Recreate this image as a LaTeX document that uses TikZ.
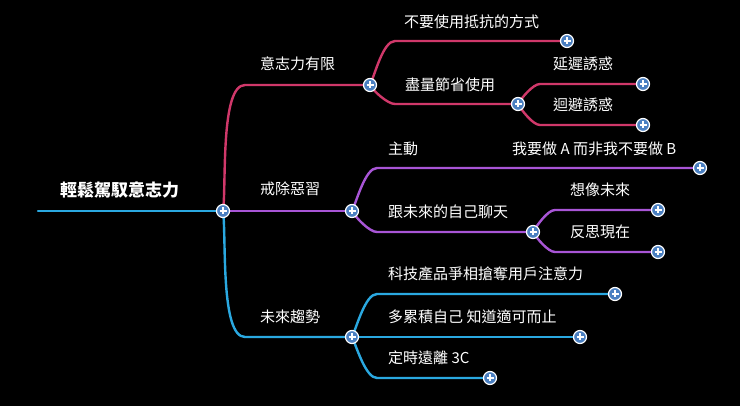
\documentclass[tikz,border=0pt]{standalone}
\usepackage{fontspec}
\newfontfamily\cjk{Noto Sans CJK TC}
\usetikzlibrary{positioning}
\definecolor{dred}{RGB}{208,56,106}
\definecolor{dpurple}{RGB}{168,85,214}
\definecolor{dcyan}{RGB}{42,168,224}
\definecolor{pblue}{RGB}{74,127,193}
\tikzset{
  plusnode/.style={circle,fill=pblue,draw=white,line width=1.2pt,minimum size=13pt,inner sep=0pt,
    path picture={\draw[white,line width=1.8pt] (path picture bounding box.center) ++(-3.5,0) -- ++(7,0)
      (path picture bounding box.center) ++(0,-3.5) -- ++(0,7);}},
  lbl/.style={text=white,font=\cjk\fontsize{15}{15}\selectfont,inner sep=0pt,anchor=west},
  branch/.style={line width=2.4pt,line cap=round}
}
\begin{document}
\begin{tikzpicture}[x=1pt,y=-1pt]
\fill[black] (0,0) rectangle (740,406);
\useasboundingbox (0,0) rectangle (740,406);
% plus points
\coordinate (start) at (38,211);
\coordinate (a) at (223,211);
\coordinate (b1) at (370,85);
\coordinate (b2) at (352,211);
\coordinate (b3) at (352,337);
\coordinate (c1) at (567,41);
\coordinate (c2) at (518,104);
\coordinate (d1) at (643,84);
\coordinate (d2) at (643,125);
\coordinate (e0) at (480,168);
\coordinate (e1) at (700,168);
\coordinate (e2) at (533,232);
\coordinate (f1) at (658,210);
\coordinate (f2) at (658,252);
\coordinate (g1) at (615,294);
\coordinate (g2) at (580,337);
\coordinate (g3) at (490,378);
% texts
\node[lbl,font=\cjk\bfseries\fontsize{17}{17}\selectfont] (root) at (60,190) {輕鬆駕馭意志力};
\node[lbl] (t1) at (260,64) {意志力有限};
\node[lbl] (t2) at (260,189) {戒除惡習};
\node[lbl] (t3) at (260,317) {未來趨勢};
\node[lbl] (t11) at (404,22) {不要使用抵抗的方式};
\node[lbl] (t12) at (405,85) {盡量節省使用};
\node[lbl] (t121) at (553,64) {延遲誘惑};
\node[lbl] (t122) at (553,105) {迴避誘惑};
\node[lbl] (t21) at (388,149) {主動};
\node[lbl] (t211) at (512,149) {我要做 A 而非我不要做 B};
\node[lbl] (t22) at (388,212) {跟未來的自己聊天};
\node[lbl] (t221) at (570,190) {想像未來};
\node[lbl] (t222) at (570,232) {反思現在};
\node[lbl] (t31) at (388,274) {科技產品爭相搶奪用戶注意力};
\node[lbl] (t32) at (388,317) {多累積自己 知道適可而止};
\node[lbl] (t33) at (388,358) {定時遠離 3C};
% connectors
\draw[branch,dcyan] (start) -- (a);
\draw[branch,dred] (a) to[out=82,in=180,looseness=0.5] (245,85) -- (b1);
\draw[branch,dpurple] (a) -- (b2);
\draw[branch,dcyan] (a) to[out=-82,in=180,looseness=0.5] (245,337) -- (b3);
\draw[branch,dred] (b1) to[out=65,in=180,looseness=0.6] (395,41) -- (c1);
\draw[branch,dred] (b1) to[out=-60,in=180,looseness=0.6] (395,104) -- (c2);
\draw[branch,dred] (c2) to[out=60,in=180,looseness=0.6] (540,84) -- (d1);
\draw[branch,dred] (c2) to[out=-60,in=180,looseness=0.6] (540,125) -- (d2);
\draw[branch,dpurple] (b2) to[out=65,in=180,looseness=0.6] (377,168) -- (e0) -- (e1);
\draw[branch,dpurple] (b2) to[out=-60,in=180,looseness=0.6] (377,232) -- (e2);
\draw[branch,dpurple] (e2) to[out=60,in=180,looseness=0.6] (555,210) -- (f1);
\draw[branch,dpurple] (e2) to[out=-60,in=180,looseness=0.6] (555,252) -- (f2);
\draw[branch,dcyan] (b3) to[out=65,in=180,looseness=0.6] (377,294) -- (g1);
\draw[branch,dcyan] (b3) -- (g2);
\draw[branch,dcyan] (b3) to[out=-65,in=180,looseness=0.6] (377,378) -- (g3);
% plus buttons
\foreach \p in {a,b1,b2,b3,c1,c2,d1,d2,e1,e2,f1,f2,g1,g2,g3}
  \node[plusnode] (plus-\p) at (\p) {};
\end{tikzpicture}
\end{document}
